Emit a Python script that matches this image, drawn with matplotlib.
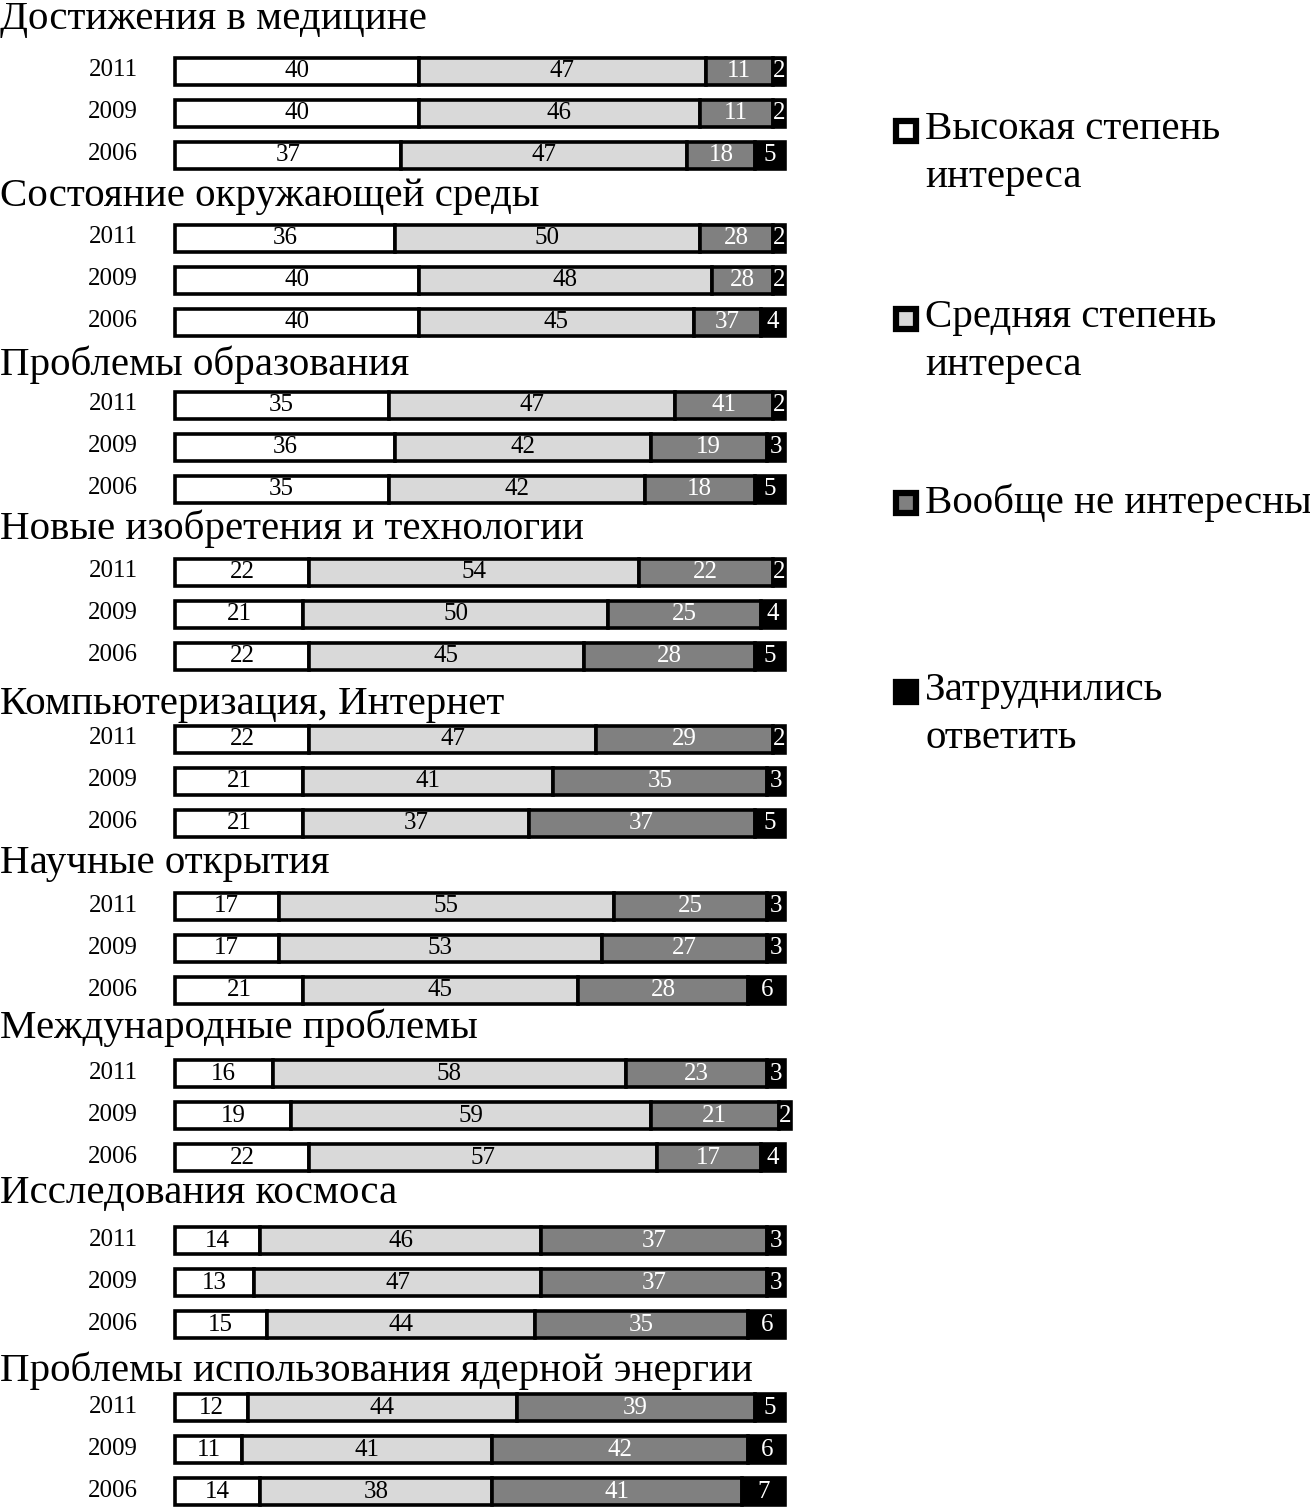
import matplotlib
matplotlib.use('Agg')
import matplotlib.pyplot as plt
from matplotlib.patches import Rectangle

# ---------------- data ----------------
categories = [
    'Достижения в медицине',
    'Состояние окружающей среды',
    'Проблемы образования',
    'Новые изобретения и технологии',
    'Компьютеризация, Интернет',
    'Научные открытия',
    'Международные проблемы',
    'Исследования космоса',
    'Проблемы использования ядерной энергии',
]
years = ['2011', '2009', '2006']
series_names = ['Высокая степень\nинтереса', 'Средняя степень\nинтереса',
                'Вообще не интересны', 'Затруднились\nответить']

# printed values (per category: 2011, 2009, 2006)
high_labels = [[40, 40, 37], [36, 40, 40], [35, 36, 35], [22, 21, 22], [22, 21, 21],
               [17, 17, 21], [16, 19, 22], [14, 13, 15], [12, 11, 14]]
mid_labels = [[47, 46, 47], [50, 48, 45], [47, 42, 42], [54, 50, 45], [47, 41, 37],
              [55, 53, 45], [58, 59, 57], [46, 47, 44], [44, 41, 38]]
none_labels = [[11, 11, 18], [28, 28, 37], [41, 19, 18], [22, 25, 28], [29, 35, 37],
               [25, 27, 28], [23, 21, 17], [37, 37, 35], [39, 42, 41]]
hard_labels = [[2, 2, 5], [2, 2, 4], [2, 3, 5], [2, 4, 5], [2, 3, 5],
               [3, 3, 6], [3, 2, 4], [3, 3, 6], [5, 6, 7]]
# drawn lengths of the "not interested" segment (differ from printed value in a few bars)
none_widths = [[11, 12, 11], [12, 10, 11], [16, 19, 18], [22, 25, 28], [29, 35, 37],
               [25, 27, 28], [23, 21, 17], [37, 37, 35], [39, 42, 41]]

# ---------------- layout / style ----------------
W, H = 1310, 1509
X0 = 175.0          # pixel x of value 0
S = 6.10            # pixels per unit
GROUP_STEP = 167.1
ROW_STEP = 42.0
FIRST_ROW = 71.0
BAR_H = 27.0
TITLE_OFFSETS = [-52, -42, -40, -44, -35, -43, -46, -47, -37]

colors = ['white', '#d9d9d9', '#808080', 'black']
text_colors = ['black', 'black', 'white', 'white']
SERIF = 'Liberation Serif'
BIG = 29.5
SMALL = 18


def px(xp):
    return (xp - X0) / S


fig = plt.figure(figsize=(W / 100, H / 100), dpi=100)
ax = fig.add_axes([0, 0, 1, 1])
ax.set_xlim(px(0), px(W))
ax.set_ylim(H, 0)
ax.axis('off')

for g, cat in enumerate(categories):
    base = FIRST_ROW + g * GROUP_STEP
    ax.text(px(0), base + TITLE_OFFSETS[g], cat, ha='left', va='center',
            fontsize=BIG, family=SERIF, color='black')
    for i, yr in enumerate(years):
        y = base + i * ROW_STEP
        widths = [high_labels[g][i], mid_labels[g][i], none_widths[g][i], hard_labels[g][i]]
        labels = [high_labels[g][i], mid_labels[g][i], none_labels[g][i], hard_labels[g][i]]
        left = 0
        for k in range(4):
            ax.barh(y, widths[k], left=left, height=BAR_H, color=colors[k],
                    edgecolor='black', linewidth=2.6)
            ax.text(left + widths[k] / 2, y, str(labels[k]), ha='center', va='center',
                    fontsize=SMALL, family=SERIF, color=text_colors[k])
            left += widths[k]
        ax.text(px(113), y - 1, yr, ha='center', va='center', fontsize=SMALL,
                family=SERIF, color='black')

# legend (manual)
legend_y = [131, 319, 503, 692]
for k, name in enumerate(series_names):
    yk = legend_y[k]
    ax.add_patch(Rectangle((px(896), yk - 10), 20 / S, 20, facecolor=colors[k],
                           edgecolor='black', linewidth=4.5, clip_on=False))
    ax.text(px(925), yk - 20, name, ha='left', va='top', fontsize=BIG,
            family=SERIF, color='black', linespacing=1.4)

fig.savefig('out.png', dpi=100)
